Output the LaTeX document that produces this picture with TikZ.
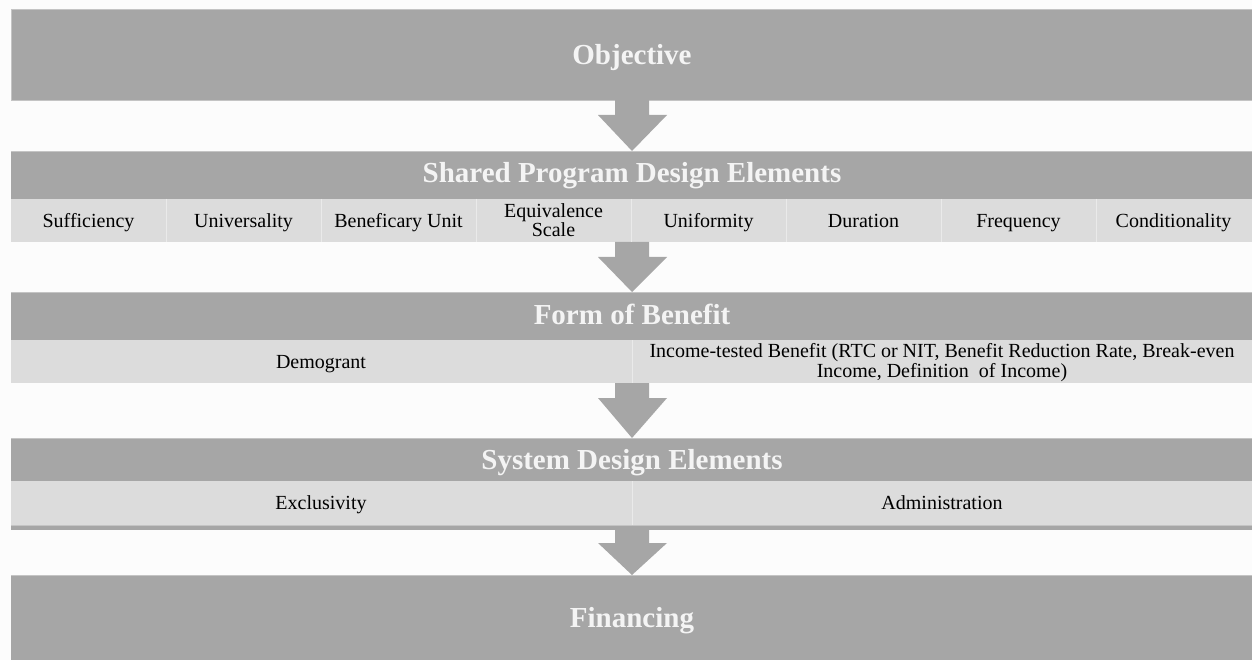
\documentclass[tikz,border=0pt]{standalone}
\usepackage{fontspec}
\setmainfont{Liberation Serif}
\usepackage{tikz}
\definecolor{bandgray}{HTML}{A6A6A6}
\definecolor{rowgray}{HTML}{DCDCDC}
\definecolor{edgegray}{HTML}{C4C4C4}
\definecolor{sepgray}{HTML}{EAEAEA}
\definecolor{hdrwhite}{HTML}{F4F4F4}
\newcommand{\hdrfont}{\fontsize{29}{32}\selectfont\bfseries}
\newcommand{\cellfont}{\fontsize{20}{20}\selectfont}

\begin{document}
\begin{tikzpicture}[x=1pt,y=-1pt,
    band/.style={fill=bandgray},
    row/.style={fill=rowgray},
    hdr/.style={text=hdrwhite,font=\hdrfont,inner sep=0pt,anchor=base},
    cell/.style={text=black,font=\cellfont,inner sep=0pt,align=center,anchor=base}]
        \fill[white!99!black] (0,0) rectangle (1252,660);
        \useasboundingbox (0,0) rectangle (1252,660);
        % bands
        \fill[band] (11,9.5) rectangle (1252,100);
        \fill[band] (11,151) rectangle (1252,199);
        \fill[row] (11,199) rectangle (1252,242);
        \fill[band] (11,292) rectangle (1252,340);
        \fill[row] (11,340) rectangle (1252,383);
        \fill[band] (11,438) rectangle (1252,481);
        \fill[row] (11,481) rectangle (1252,525);
        \fill[band] (11,526) rectangle (1252,530);
        \fill[band] (11,575) rectangle (1252,660);
        \draw[edgegray] (11,100) -- (11,9.5) -- (1252,9.5);
        \draw[edgegray] (11,100) -- (1252,100);
        \foreach \y in {151,292,438,575,525.5}
            \draw[edgegray] (11,\y) -- (1252,\y);
        % block arrows
        \foreach \top/\bot/\tip in {100/115/151, 242/257/292, 383/398/438, 530/543/575}
            \fill[bandgray] (615,\top) -- (649,\top) -- (649,\bot) -- (667,\bot)
                -- (632,\tip) -- (598,\bot) -- (615,\bot) -- cycle;
        % separators
        \foreach \k in {1,...,7}
            \draw[sepgray] (11+155*\k,199) -- (11+155*\k,242);
        \draw[sepgray] (632,340) -- (632,383);
        \draw[sepgray] (632,481) -- (632,525);
        % texts (base = last line)
        \node[hdr] (objective) at (632,65) {Objective};
        \node[hdr] (shared) at (632,183) {Shared Program Design Elements};
        \foreach \lab/\yb [count=\i] in {Sufficiency/228,Universality/228,Beneficary Unit/228,{Equivalence\\Scale}/237,Uniformity/228,Duration/228,Frequency/228,Conditionality/228}
            \node[cell] (elem\i) at (11+155*\i-77.5,\yb) {\lab};
        \node[hdr] (form) at (632,324) {Form of Benefit};
        \node[cell] (demogrant) at (321,368) {Demogrant};
        \node[cell] (incometested) at (942,377) {Income-tested Benefit (RTC or NIT, Benefit Reduction Rate, Break-even\\Income, Definition\ \ of Income)};
        \node[hdr] (system) at (632,469) {System Design Elements};
        \node[cell] (exclusivity) at (321,509) {Exclusivity};
        \node[cell] (administration) at (942,509) {Administration};
        \node[hdr] (financing) at (632,627) {Financing};
\end{tikzpicture}
\end{document}
